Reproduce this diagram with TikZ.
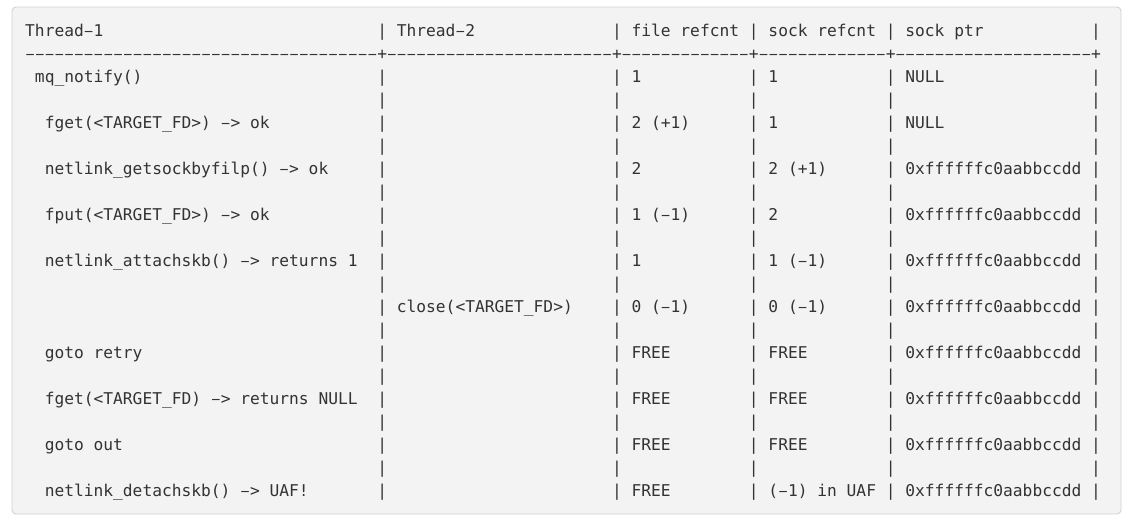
\documentclass[tikz,border=0pt]{standalone}
\usepackage{fontspec}
\setmonofont{DejaVu Sans Mono}
\usepackage{xcolor}
\usepackage{graphicx}
\usepackage{tikz}
\usetikzlibrary{calc}
\definecolor{bg}{HTML}{FFFFFF}
\definecolor{codebg}{HTML}{F3F3F3}
\definecolor{frame}{HTML}{D2D2D2}
\definecolor{code}{HTML}{333333}
\newcommand\hy{\makebox[0.602em]{\scalebox{0.78}[1]{–}}}
\tikzset{
  box/.style={draw=frame, fill=codebg, line width=0.9pt, rounded corners=4pt},
  cell/.style={anchor=base west, inner sep=0pt, text=code, font=\ttfamily\fontsize{16.24}{20}\selectfont}
}

\begin{document}
\begin{tikzpicture}[x=1pt,y=1pt]
  \def\cw{9.78}
  \def\lh{23}
  \def\ox{25}
  \def\oy{-36.5}
  \useasboundingbox[fill=bg] (0,0) rectangle (1133,-522);
  \draw[box] (12,-7) rectangle (1121,-514);
  % header
  \foreach \c/\t [count=\i] in {0/{Thread\hy1}, 38/{Thread\hy2}, 62/{file refcnt}, 76/{sock refcnt}, 90/{sock ptr}}
    \node[cell] (h\i) at ({\ox+\c*\cw},{\oy}) {\t};
  % separator
  \foreach \a/\b in {0/35, 37/59, 61/73, 75/87, 89/108}
    \foreach \c in {\a,...,\b}
      \node[cell] (s\c) at ({\ox+\c*\cw},{\oy-\lh}) {\hy};
  \foreach \c in {36,60,74,88,109}
    \node[cell] (s\c) at ({\ox+\c*\cw},{\oy-\lh}) {+};
  % column rules
  \foreach \r in {0,2,3,...,20}
    \foreach \c in {36,60,74,88,109}
      \node[cell] (p\c-\r) at ({\ox+\c*\cw},{\oy-\r*\lh}) {|};
  % Thread-1
  \foreach \r/\c/\t in {2/1/{mq\_notify()}, 4/2/{fget(<TARGET\_FD>) \hy> ok},
      6/2/{netlink\_getsockbyfilp() \hy> ok}, 8/2/{fput(<TARGET\_FD>) \hy> ok},
      10/2/{netlink\_attachskb() \hy> returns 1}, 14/2/{goto retry},
      16/2/{fget(<TARGET\_FD) \hy> returns NULL}, 18/2/{goto out},
      20/2/{netlink\_detachskb() \hy> UAF!}}
    \node[cell] (ta-\r) at ({\ox+\c*\cw},{\oy-\r*\lh}) {\t};
  % Thread-2
  \node[cell] (tb-12) at ({\ox+38*\cw},{\oy-12*\lh}) {close(<TARGET\_FD>)};
  % file refcnt
  \foreach \r/\t in {2/1, 4/{2 (+1)}, 6/2, 8/{1 (\hy1)}, 10/1, 12/{0 (\hy1)},
      14/FREE, 16/FREE, 18/FREE, 20/FREE}
    \node[cell] (fr-\r) at ({\ox+62*\cw},{\oy-\r*\lh}) {\t};
  % sock refcnt
  \foreach \r/\t in {2/1, 4/1, 6/{2 (+1)}, 8/2, 10/{1 (\hy1)}, 12/{0 (\hy1)},
      14/FREE, 16/FREE, 18/FREE, 20/{(\hy1) in UAF}}
    \node[cell] (sr-\r) at ({\ox+76*\cw},{\oy-\r*\lh}) {\t};
  % sock ptr
  \foreach \r/\t in {2/NULL, 4/NULL, 6/0xffffffc0aabbccdd, 8/0xffffffc0aabbccdd,
      10/0xffffffc0aabbccdd, 12/0xffffffc0aabbccdd, 14/0xffffffc0aabbccdd,
      16/0xffffffc0aabbccdd, 18/0xffffffc0aabbccdd, 20/0xffffffc0aabbccdd}
    \node[cell] (sp-\r) at ({\ox+90*\cw},{\oy-\r*\lh}) {\t};
\end{tikzpicture}
\end{document}
